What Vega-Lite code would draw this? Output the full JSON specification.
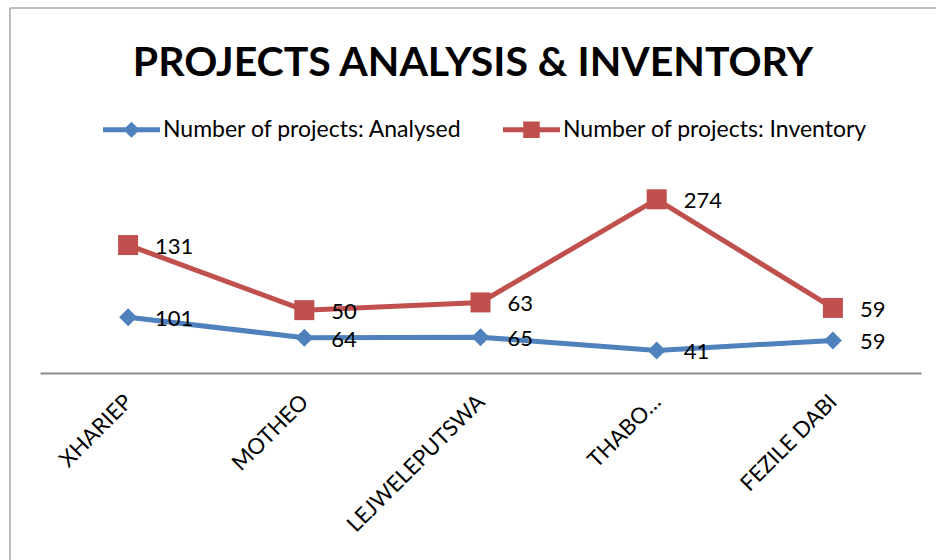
{
  "$schema": "https://vega.github.io/schema/vega-lite/v6.json",
  "autosize": "none",
  "width": 926,
  "height": 552,
  "padding": {"left": 10, "top": 8, "right": 0, "bottom": 0},
  "background": "white",
  "config": {
    "view": {"stroke": "#a6a6a6", "strokeWidth": 1.5, "strokeDash": [926, 1478, 552, 0]},
    "font": "Lato",
    "legend": {
      "title": null,
      "orient": "none",
      "direction": "horizontal",
      "legendX": 93,
      "legendY": 93,
      "symbolSize": 3249,
      "symbolStrokeWidth": 0,
      "labelFont": "Lato",
      "labelFontSize": 23,
      "labelColor": "#000000",
      "labelOffset": 3,
      "labelLimit": 0,
      "columnPadding": 40
    }
  },
  "title": {
    "text": "PROJECTS ANALYSIS & INVENTORY",
    "font": "Lato",
    "fontSize": 41,
    "fontWeight": "bold",
    "color": "#000000",
    "anchor": "middle",
    "frame": "group",
    "offset": -77
  },
  "data": {
    "values": [
      {"region": "XHARIEP", "series": "Number of projects: Analysed", "value": 101},
      {"region": "MOTHEO", "series": "Number of projects: Analysed", "value": 64},
      {"region": "LEJWELEPUTSWA", "series": "Number of projects: Analysed", "value": 65},
      {"region": "THABO…", "series": "Number of projects: Analysed", "value": 41},
      {"region": "FEZILE DABI", "series": "Number of projects: Analysed", "value": 59},
      {"region": "XHARIEP", "series": "Number of projects: Inventory", "value": 131},
      {"region": "MOTHEO", "series": "Number of projects: Inventory", "value": 50},
      {"region": "LEJWELEPUTSWA", "series": "Number of projects: Inventory", "value": 63},
      {"region": "THABO…", "series": "Number of projects: Inventory", "value": 274},
      {"region": "FEZILE DABI", "series": "Number of projects: Inventory", "value": 59}
    ]
  },
  "transform": [
    {"stack": "value", "groupby": ["region"], "sort": [{"field": "series", "order": "ascending"}], "as": ["y0", "y1"]}
  ],
  "encoding": {
    "x": {
      "field": "region",
      "type": "nominal",
      "sort": null,
      "scale": {"type": "point", "padding": 0.5, "range": [30, 911]},
      "axis": {
        "title": null,
        "ticks": false,
        "offset": -187,
        "domainColor": "#8c8c8c",
        "domainWidth": 2,
        "labelAngle": -45,
        "labelAlign": "right",
        "labelBaseline": "middle",
        "labelPadding": 25,
        "labelOffset": 0,
        "labelFont": "Lato",
        "labelFontSize": 22,
        "labelColor": "#000000",
        "labelLimit": 0
      }
    },
    "y": {
      "field": "y1",
      "type": "quantitative",
      "scale": {"domain": [0, 350], "nice": false, "range": [365, 172]},
      "axis": null
    },
    "color": {
      "field": "series",
      "type": "nominal",
      "scale": {"domain": ["Number of projects: Analysed", "Number of projects: Inventory"], "range": ["#4F81BD", "#C0504D"]}
    }
  },
  "layer": [
    {
      "mark": {"type": "line", "strokeWidth": 5}
    },
    {
      "transform": [{"filter": "datum.series === 'Number of projects: Analysed'"}],
      "mark": {"type": "point", "shape": "diamond", "filled": true, "opacity": 1, "size": 324}
    },
    {
      "transform": [{"filter": "datum.series === 'Number of projects: Inventory'"}],
      "mark": {"type": "point", "shape": "square", "filled": true, "opacity": 1, "size": 400}
    },
    {
      "mark": {"type": "text", "align": "left", "baseline": "middle", "dx": 27, "dy": 2, "font": "Lato", "fontSize": 22},
      "encoding": {"text": {"field": "value", "type": "quantitative"}, "color": {"value": "#000000"}}
    },
    {
      "mark": {"type": "point", "filled": true, "opacity": 0},
      "encoding": {
        "shape": {
          "field": "series",
          "type": "nominal",
          "scale": {
            "domain": ["Number of projects: Analysed", "Number of projects: Inventory"],
            "range": [
              "M-1,-0.09L-0.2,-0.09L0,-0.28L0.2,-0.09L1,-0.09L1,0.09L0.2,0.09L0,0.28L-0.2,0.09L-1,0.09Z",
              "M-1,-0.09L-0.29,-0.09L-0.29,-0.29L0.29,-0.29L0.29,-0.09L1,-0.09L1,0.09L0.29,0.09L0.29,0.29L-0.29,0.29L-0.29,0.09L-1,0.09Z"
            ]
          }
        }
      }
    }
  ]
}
